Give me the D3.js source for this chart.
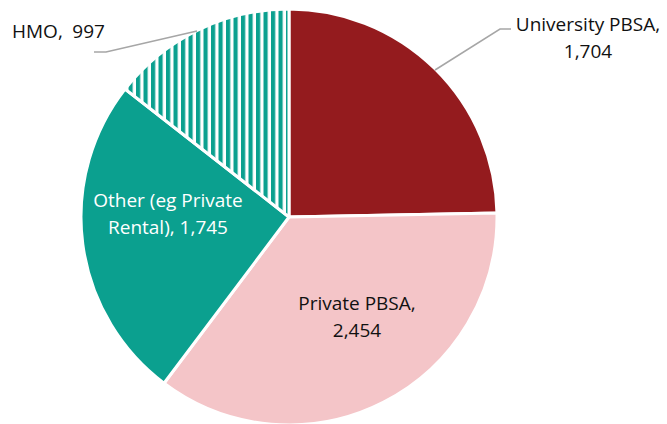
<!DOCTYPE html>
<html><head><meta charset="utf-8">
<script src="https://cdn.jsdelivr.net/npm/d3@7"></script>
<style>html,body{margin:0;padding:0;background:#fff;}svg{display:block;}</style>
</head><body>
<svg id="chart" width="667" height="424"></svg>
<script>
const categories = ["University PBSA", "Private PBSA", "Other (eg Private Rental)", "HMO"];
const values = [1704, 2454, 1745, 997];
const labelLines = [["University PBSA,", "1,704"], ["Private PBSA,", "2,454"], ["Other (eg Private", "Rental), 1,745"], ["HMO,\u2002997"]];
const colors = ["#941B1E", "#F4C5C8", "#0BA08F", "url(#stripes)"];

const svg = d3.select("#chart");
const cx = 289, cy = 217, R = 208;
const defs = svg.append("defs");
const pat = defs.append("pattern").attr("id", "stripes").attr("patternUnits", "userSpaceOnUse")
  .attr("width", 7.5).attr("height", 10).attr("x", cx + 0.5);
pat.append("rect").attr("width", 7.5).attr("height", 10).attr("fill", "#fff");
pat.append("rect").attr("x", 0).attr("width", 4.2).attr("height", 10).attr("fill", "#0BA08F");

const pie = d3.pie().sort(null).value(d => d);
const arcs = pie(values);
const arc = d3.arc().innerRadius(0).outerRadius(R);
const g = svg.append("g").attr("transform", `translate(${cx},${cy})`);
g.selectAll("path").data(arcs).join("path")
  .attr("d", arc).attr("fill", (d, i) => colors[i])
  .attr("stroke", "#fff").attr("stroke-width", 3).attr("stroke-linejoin", "round");

const font = "'Open Sans', sans-serif";
const labelPos = [
  {x: 588, y: 31, color: "#111", anchor: "middle"},
  {x: 357, y: 310, color: "#111", anchor: "middle"},
  {x: 168, y: 207, color: "#fff", anchor: "middle"},
  {x: 12, y: 38, color: "#111", anchor: "start"}
];
labelLines.forEach((lines, i) => {
  const p = labelPos[i];
  const t = svg.append("text").attr("x", p.x).attr("y", p.y).attr("fill", p.color)
    .attr("font-family", font).attr("font-size", 19).attr("text-anchor", p.anchor);
  lines.forEach((l, j) => t.append("tspan").attr("x", p.x).attr("dy", j === 0 ? 0 : 27).text(l));
});

// leader lines
const leader = d3.line();
svg.append("path").attr("d", leader([[435, 70], [500, 29], [511, 29]]))
  .attr("fill", "none").attr("stroke", "#A6A6A6").attr("stroke-width", 1.5);
svg.append("path").attr("d", leader([[197, 31], [106, 52], [94, 52]]))
  .attr("fill", "none").attr("stroke", "#A6A6A6").attr("stroke-width", 1.5);
</script>
</body></html>
